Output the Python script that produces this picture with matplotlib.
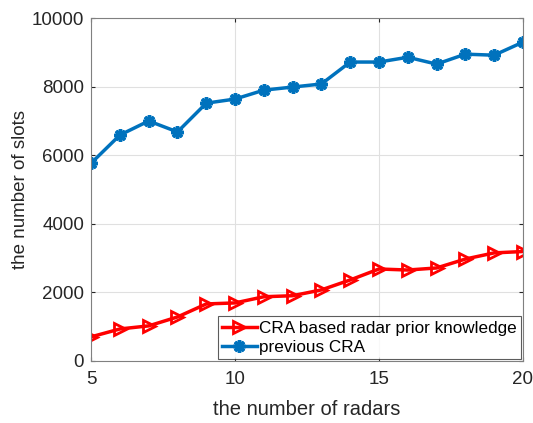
import matplotlib
matplotlib.use("Agg")
import matplotlib.pyplot as plt

radars = [5, 6, 7, 8, 9, 10, 11, 12, 13, 14, 15, 16, 17, 18, 19, 20]
cra_prior = [700, 930, 1020, 1280, 1660, 1690, 1870, 1900, 2070, 2360, 2680, 2650, 2710, 2970, 3150, 3190]
cra_prev = [5770, 6590, 7000, 6680, 7520, 7640, 7900, 7990, 8080, 8720, 8720, 8860, 8660, 8950, 8920, 9300]
xticks = [5, 10, 15, 20]
yticks = [0, 2000, 4000, 6000, 8000, 10000]

plt.rcParams['font.family'] = ['Liberation Sans', 'DejaVu Sans']
fig = plt.figure(figsize=(5.33, 4.23), dpi=100)
ax = fig.add_axes([0.171, 0.147, 0.810, 0.810])

ax.plot(radars, cra_prior, color='#FF0000', lw=2.5, marker='>', ms=9,
        mfc='none', mec='#FF0000', mew=2, label='CRA based radar prior knowledge')
ax.plot(radars, cra_prev, color='#0072BD', lw=2.5, marker=(8, 2, 0), ms=9,
        mec='#0072BD', mew=2.5, label='previous CRA')

ax.set_xlim(5, 20)
ax.set_ylim(0, 10000)
ax.set_xticks(xticks)
ax.set_yticks(yticks)
ax.grid(True, color='#E0E0E0', lw=0.8)
ax.set_axisbelow(True)
for s in ax.spines.values():
    s.set_color('#808080')
    s.set_linewidth(0.8)
ax.tick_params(labelsize=13.5, colors='#262626', direction='in', length=3, top=True, right=True, labeltop=False, labelright=False)
for lab in ax.get_xticklabels() + ax.get_yticklabels():
    lab.set_color('#262626')
ax.tick_params(axis='x', pad=7)
ax.tick_params(axis='y', pad=5)
ax.set_xlabel('the number of radars', fontsize=14.5, color='#262626', labelpad=9)
ax.set_ylabel('the number of slots', fontsize=13.5, color='#262626', labelpad=2)

leg = ax.legend(loc='lower right', fontsize=12.3, frameon=True, fancybox=False,
                edgecolor='#333333', borderaxespad=0.1, handlelength=2.0,
                handletextpad=0.15, borderpad=0.25, labelspacing=0.25)
leg.get_frame().set_linewidth(0.8)

fig.savefig('out.png', dpi=100)
